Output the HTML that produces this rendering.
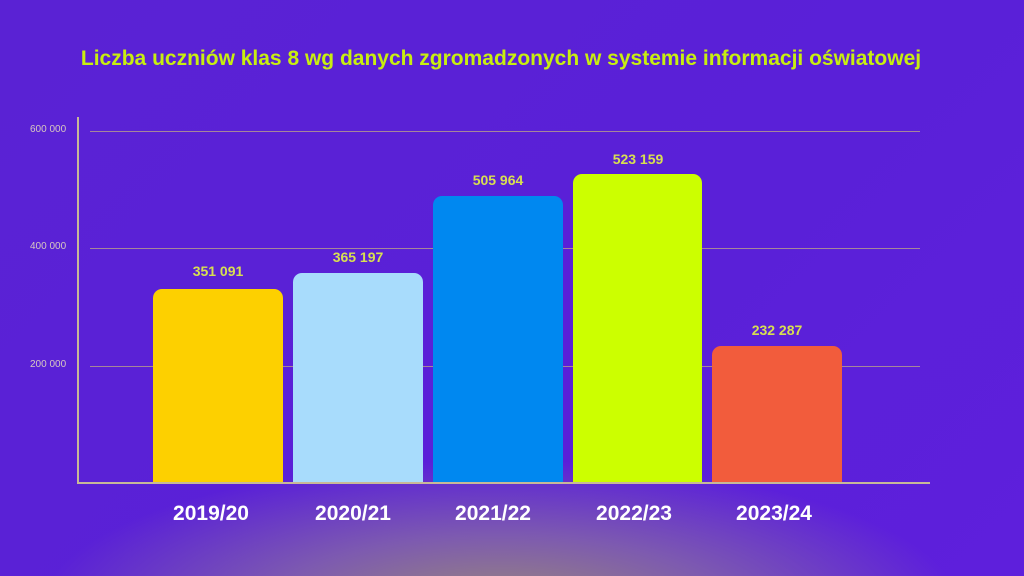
<!DOCTYPE html>
<html><head><meta charset="utf-8"><style>
html,body{margin:0;padding:0}
body{width:1024px;height:576px;overflow:hidden;position:relative;font-family:"Liberation Sans",sans-serif;
background:radial-gradient(ellipse 460px 150px at 500px 610px,#9a8a78 0%,#7d5ab0 50%,rgba(90,31,214,0) 100%),linear-gradient(135deg,#5a22d4 0%,#5a20d8 60%,#5e1fdc 100%);}
.t{position:absolute;white-space:nowrap}
.bar{position:absolute;border-radius:9px 9px 0 0}
.g{position:absolute;left:90px;width:830px;height:1px;background:#b9a08a;opacity:.8}
.yl{position:absolute;left:30px;font-size:10px;color:#d8c8c0}
.v{position:absolute;width:130px;text-align:center;font-size:14px;font-weight:bold;color:#d8e050}
.x{position:absolute;width:130px;text-align:center;font-size:21px;font-weight:bold;color:#fff;top:502px}
</style></head><body>
<div class="t" style="left:0;width:1002px;text-align:center;top:47px;font-size:21px;font-weight:bold;color:#c8ee10">Liczba uczniów klas 8 wg danych zgromadzonych w systemie informacji oświatowej</div>
<div class="g" style="top:131px"></div>
<div class="g" style="top:248px"></div>
<div class="g" style="top:366px"></div>
<div class="yl" style="top:124px">600 000</div>
<div class="yl" style="top:241px">400 000</div>
<div class="yl" style="top:359px">200 000</div>
<div style="position:absolute;left:77px;top:117px;width:2px;height:367px;background:#c8b898"></div>
<div class="bar" style="left:153px;width:130px;top:289px;height:194px;background:#fdd000"></div>
<div class="bar" style="left:293px;width:130px;top:273px;height:210px;background:#a8dcfc"></div>
<div class="bar" style="left:433px;width:130px;top:196px;height:287px;background:#0088f0"></div>
<div class="bar" style="left:573px;width:129px;top:174px;height:309px;background:#ccff00"></div>
<div class="bar" style="left:712px;width:130px;top:346px;height:137px;background:#f25c3c"></div>
<div style="position:absolute;left:77px;top:482px;width:853px;height:2px;background:#c8b898"></div>
<div class="v" style="left:153px;top:263px">351 091</div>
<div class="v" style="left:293px;top:249px">365 197</div>
<div class="v" style="left:433px;top:172px">505 964</div>
<div class="v" style="left:573px;top:151px">523 159</div>
<div class="v" style="left:712px;top:322px">232 287</div>
<div class="x" style="left:146px">2019/20</div>
<div class="x" style="left:288px">2020/21</div>
<div class="x" style="left:428px">2021/22</div>
<div class="x" style="left:569px">2022/23</div>
<div class="x" style="left:709px">2023/24</div>
</body></html>
